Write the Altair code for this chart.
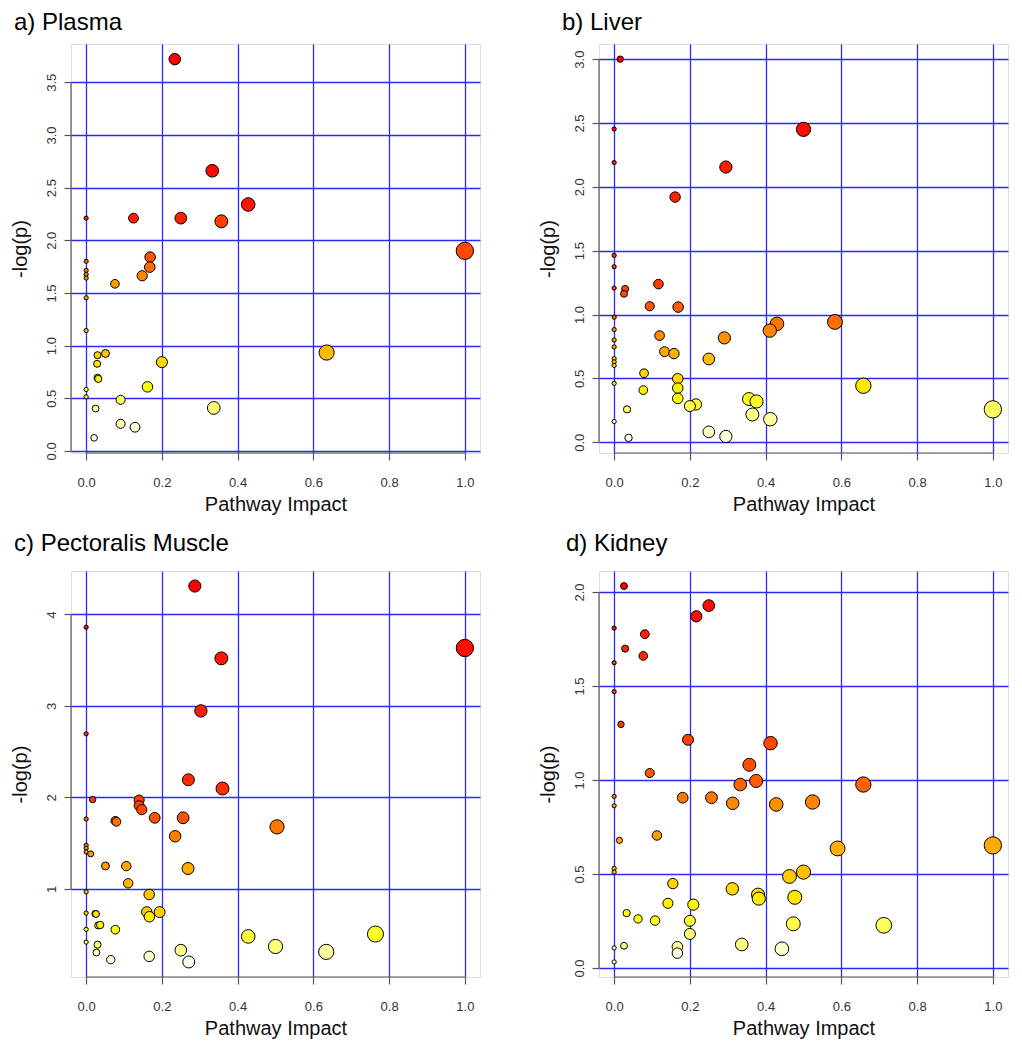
import altair as alt
import pandas as pd

FONT = "Liberation Sans"

# ---------------- data ----------------
x_ticks = [0.0, 0.2, 0.4, 0.6, 0.8, 1.0]

plasma_impact = [0.234, 0.333, 0.428, 0.0, 0.125, 0.25, 0.357, 1.0, 0.169, 0.168,
                 0.148, 0.076, 0.0, 0.0, 0.0, 0.0, 0.0, 0.0, 0.635, 0.030,
                 0.051, 0.029, 0.200, 0.030, 0.032, 0.162, 0.0, 0.0, 0.091, 0.025,
                 0.337, 0.091, 0.129, 0.021]
plasma_logp = [3.72, 2.66, 2.34, 2.21, 2.21, 2.21, 2.18, 1.90, 1.84, 1.745,
               1.663, 1.587, 1.80, 1.714, 1.676, 1.641, 1.454, 1.143, 0.934, 0.909,
               0.925, 0.827, 0.843, 0.695, 0.684, 0.608, 0.583, 0.513, 0.485, 0.402,
               0.408, 0.257, 0.225, 0.124]
plasma_yticks = [0.0, 0.5, 1.0, 1.5, 2.0, 2.5, 3.0, 3.5]

liver_impact = [0.016, 0.0, 0.5, 0.0, 0.295, 0.161, 0.0, 0.0, 0.117, 0.0,
                0.029, 0.026, 0.094, 0.169, 0.0, 0.43, 0.583, 0.411, 0.0, 0.12,
                0.291, 0.0, 0.0, 0.133, 0.158, 0.25, 0.0, 0.0, 0.0, 0.079,
                0.168, 0.0, 0.658, 0.168, 0.077, 0.168, 0.356, 0.376, 0.216, 0.2,
                0.034, 1.0, 0.365, 0.4125, 0.0, 0.25, 0.295, 0.038]
liver_logp = [3.0, 2.453, 2.45, 2.19, 2.155, 1.92, 1.463, 1.374, 1.238, 1.207,
              1.20, 1.162, 1.065, 1.058, 0.979, 0.927, 0.942, 0.874, 0.882, 0.835,
              0.817, 0.801, 0.746, 0.709, 0.694, 0.652, 0.655, 0.629, 0.601, 0.54,
              0.497, 0.461, 0.442, 0.424, 0.408, 0.343, 0.338, 0.319, 0.296, 0.283,
              0.257, 0.257, 0.217, 0.18, 0.162, 0.081, 0.045, 0.034]
liver_yticks = [0.0, 0.5, 1.0, 1.5, 2.0, 2.5, 3.0]

muscle_impact = [0.287, 0.0, 1.0, 0.357, 0.303, 0.0, 0.27, 0.36, 0.017, 0.140,
                 0.140, 0.147, 0.0, 0.077, 0.080, 0.181, 0.256, 0.504, 0.235, 0.0,
                 0.0, 0.0, 0.012, 0.051, 0.106, 0.269, 0.111, 0.0, 0.1665, 0.0,
                 0.024, 0.026, 0.160, 0.194, 0.167, 0.0, 0.032, 0.037, 0.077, 0.428,
                 0.764, 0.0, 0.030, 0.5, 0.25, 0.634, 0.027, 0.1665, 0.065, 0.271]
muscle_logp = [4.31, 3.86, 3.633, 3.52, 2.946, 2.696, 2.193, 2.098, 1.977, 1.972,
               1.91, 1.867, 1.765, 1.745, 1.734, 1.778, 1.778, 1.679, 1.576, 1.478,
               1.446, 1.405, 1.384, 1.252, 1.25, 1.224, 1.062, 0.969, 0.94, 0.737,
               0.73, 0.727, 0.75, 0.748, 0.697, 0.559, 0.602, 0.607, 0.556, 0.482,
               0.508, 0.42, 0.392, 0.372, 0.332, 0.313, 0.306, 0.264, 0.228, 0.203]
muscle_yticks = [1, 2, 3, 4]

kidney_impact = [0.026, 0.25, 0.217, 0.0, 0.081, 0.029, 0.077, 0.0, 0.0, 0.018,
                 0.195, 0.413, 0.357, 0.094, 0.375, 0.333, 0.658, 0.0, 0.181, 0.257,
                 0.0, 0.313, 0.428, 0.524, 0.113, 0.014, 0.59, 1.0, 0.0, 0.0,
                 0.5, 0.463, 0.155, 0.312, 0.38, 0.382, 0.477, 0.142, 0.209, 0.033,
                 0.063, 0.108, 0.2, 0.473, 0.712, 0.2, 0.337, 0.026, 0.0, 0.167,
                 0.443, 0.167, 0.0]
kidney_logp = [2.032, 1.928, 1.871, 1.808, 1.776, 1.699, 1.66, 1.624, 1.47, 1.296,
               1.214, 1.196, 1.081, 1.037, 0.995, 0.976, 0.976, 0.913, 0.906, 0.906,
               0.863, 0.876, 0.87, 0.883, 0.705, 0.679, 0.636, 0.652, 0.53, 0.51,
               0.51, 0.487, 0.449, 0.421, 0.39, 0.369, 0.376, 0.344, 0.337, 0.292,
               0.261, 0.252, 0.251, 0.235, 0.227, 0.181, 0.125, 0.118, 0.107, 0.113,
               0.102, 0.079, 0.032]
kidney_yticks = [0.0, 0.5, 1.0, 1.5, 2.0]

# ---------------- styling ----------------
GRID = "#2a2aff"
AXC = "#555555"
PW = 409


def panel(title, impact, logp, yticks, yfmt, ph, title_dx, title_offset):
    df = pd.DataFrame({"impact": impact, "logp": logp})
    lo, hi = min(logp), max(logp)
    pad = 0.04 * (hi - lo)
    xs = alt.Scale(domain=[-0.04, 1.04], nice=False, zero=False)
    ys = alt.Scale(domain=[lo - pad, hi + pad], nice=False, zero=False)

    xaxis = alt.Axis(values=x_ticks, format=".1f", title="Pathway Impact",
                     grid=True, gridColor=GRID, gridWidth=1.3, gridOpacity=1,
                     domain=False, ticks=True, tickSize=7, tickColor=AXC, tickWidth=1.2,
                     labelFont=FONT, labelFontSize=13, labelColor="#333333",
                     labelPadding=16, labelFlush=False, labelOverlap=False,
                     titleFont=FONT, titleFontSize=20, titleFontWeight="normal",
                     titleColor="#111111", titlePadding=10,
                     minExtent=31, maxExtent=31)
    yaxis = alt.Axis(values=yticks, format=yfmt, title="-log(p)",
                     grid=True, gridColor=GRID, gridWidth=1.3, gridOpacity=1,
                     domain=False, ticks=True, tickSize=7, tickColor=AXC, tickWidth=1.2,
                     labelFont=FONT, labelFontSize=13, labelColor="#333333",
                     labelAngle=270, labelAlign="center", labelBaseline="bottom",
                     labelPadding=6, labelFlush=False, labelOverlap=False,
                     titleFont=FONT, titleFontSize=20, titleFontWeight="normal",
                     titleColor="#111111", titleAngle=270, titleBaseline="bottom",
                     titlePadding=15, minExtent=26, maxExtent=26)

    pts = alt.Chart(df).transform_window(
        t="percent_rank()", sort=[alt.SortField("logp", order="descending")]
    ).mark_circle(opacity=1, stroke="black", strokeWidth=1).encode(
        x=alt.X("impact:Q", scale=xs, axis=xaxis),
        y=alt.Y("logp:Q", scale=ys, axis=yaxis),
        color=alt.Color("t:Q", legend=None,
                        scale=alt.Scale(domain=[0, 0.75, 1],
                                        range=["#ff0000", "#ffff00", "#fffff0"],
                                        interpolate="rgb")),
        size=alt.Size("impact:Q", legend=None,
                      scale=alt.Scale(type="pow", exponent=0.62, domain=[0, 1],
                                      range=[18, 300])),
    )

    xline = alt.Chart(pd.DataFrame({"impact": [x_ticks[0]], "impact_end": [x_ticks[-1]]})).mark_rule(
        color=AXC, strokeWidth=1.2).encode(
        x=alt.X("impact:Q", scale=xs, axis=xaxis), x2="impact_end:Q", y=alt.value(ph))
    yline = alt.Chart(pd.DataFrame({"logp": [yticks[0]], "logp_end": [yticks[-1]]})).mark_rule(
        color=AXC, strokeWidth=1.2).encode(
        y=alt.Y("logp:Q", scale=ys, axis=yaxis), y2="logp_end:Q", x=alt.value(0))

    return alt.layer(xline, yline, pts).properties(
        width=PW, height=ph,
        title=alt.TitleParams(text=title, anchor="start", frame="group", dx=title_dx,
                              font=FONT, fontSize=24, fontWeight="normal", color="#000000",
                              baseline="alphabetic", offset=title_offset),
    )


a = panel("a) Plasma", plasma_impact, plasma_logp, plasma_yticks, ".1f", 409, -57, -10)
b = panel("b) Liver", liver_impact, liver_logp, liver_yticks, ".1f", 409, -37, -10)
c = panel("c) Pectoralis Muscle", muscle_impact, muscle_logp, muscle_yticks, "d", 406, -57, -4)
d = panel("d) Kidney", kidney_impact, kidney_logp, kidney_yticks, ".1f", 406, -33, -4)

chart = alt.vconcat(
    alt.hconcat(a, b, spacing=56),
    alt.hconcat(c, d, spacing=56),
    spacing=16,
).properties(
    padding={"left": 1, "top": 2, "right": 0, "bottom": 0}
).configure_view(stroke=None).configure(background="white")

chart.save("out.html", embed_options={"renderer": "svg", "actions": False})
